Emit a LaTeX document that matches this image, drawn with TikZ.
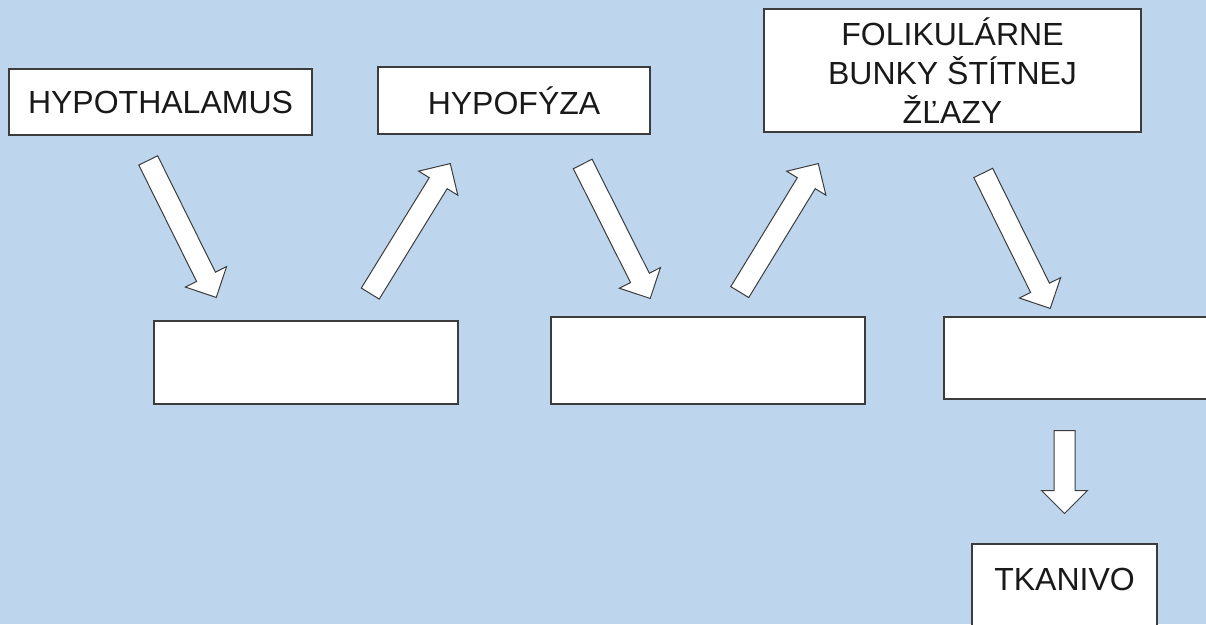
\documentclass[tikz,border=0pt]{standalone}
\usepackage{fontspec}
\setmainfont{Liberation Sans}
\usetikzlibrary{shapes.arrows, calc}
\definecolor{bgblue}{RGB}{189,214,238}
\definecolor{edgegray}{RGB}{60,60,60}
\tikzset{
    x=1pt, y=-1pt, % one unit per pixel, y going down
    box/.style={draw=edgegray, line width=1.5pt, fill=white, inner sep=0pt, font=\fontsize{32}{39}\selectfont, text=black!90, align=center}, % white boxes
    blockarrow/.style={single arrow, draw=edgegray, line width=1pt, fill=white, inner xsep=0pt, inner ysep=10pt, single arrow head extend=12.5pt, anchor=tail}, % hollow arrows
}
\begin{document}
\begin{tikzpicture}
    \useasboundingbox (0,0) rectangle (1206,624);
    \clip (0,0) rectangle (1206,624);
    \fill[bgblue] (0,0) rectangle (1206,624);

    \node[box, minimum width=303, minimum height=66] (hypothalamus) at (160.5,102) {HYPOTHALAMUS};
    \node[box, minimum width=272, minimum height=67] (hypofyza) at (514,100.5) {HYPOF\'YZA};
    \node[box, minimum width=377, minimum height=123] (folikuly) at (952.5,70.5) {FOLIKUL\'ARNE\\BUNKY \v{S}T\'ITNEJ\\\v{Z}\v{L}AZY};
    \node[box, minimum width=304, minimum height=83] (empty1) at (306,362.5) {};
    \node[box, minimum width=314, minimum height=87] (empty2) at (708,360.5) {};
    \node[box, minimum width=316, minimum height=82] (empty3) at (1102,358) {};
    \node[box, anchor=north, minimum width=185, text height=24, inner ysep=23, text depth=80] (tkanivo) at (1064.5,543) {TKANIVO};

    \coordinate (t1) at (148,160);    \coordinate (h1) at (216,297);
    \coordinate (t2) at (370,294);    \coordinate (h2) at (450,164);
    \coordinate (t3) at (582.5,163.5); \coordinate (h3) at (650,298);
    \coordinate (t4) at (739.5,292.5); \coordinate (h4) at (818,164);
    \coordinate (t5) at (983,172.5);  \coordinate (h5) at (1050,308);
    \coordinate (t6) at (1064.5,430); \coordinate (h6) at (1064.5,513);

    \foreach \i in {1,...,6}
        \path let \p1=($(h\i)-(t\i)$), \n1={veclen(\x1,\y1)}, \n2={atan2(\y1,\x1)} in
            (t\i) node[blockarrow, minimum height=\n1, rotate=\n2] (arrow\i) {};
\end{tikzpicture}
\end{document}
